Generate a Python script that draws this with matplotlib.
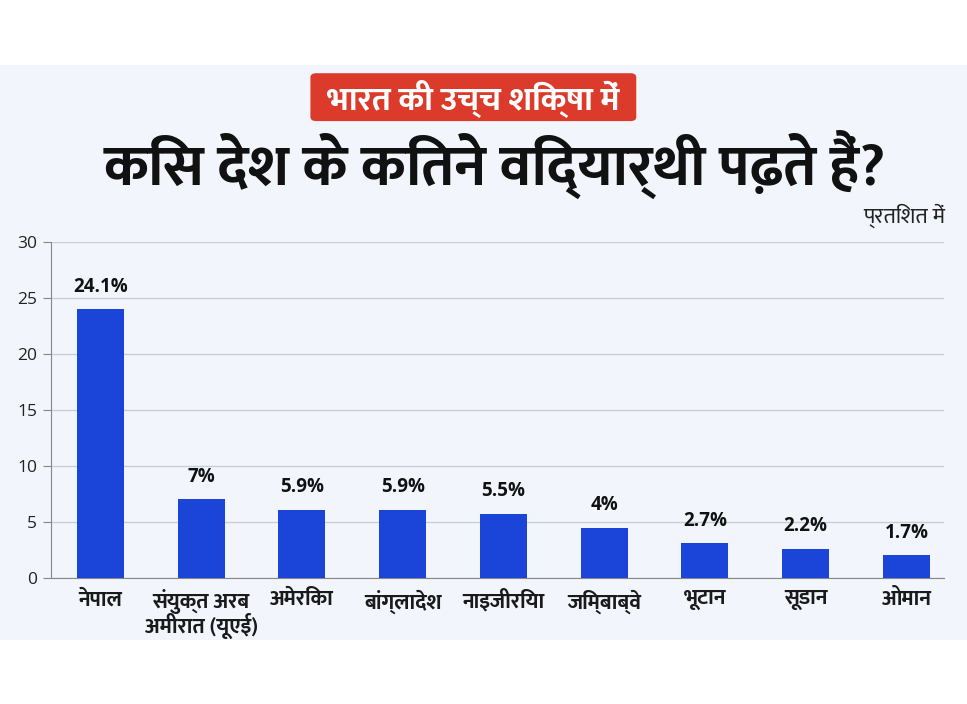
import matplotlib
matplotlib.use('Agg')
import matplotlib.pyplot as plt
from matplotlib.patches import Rectangle, FancyBboxPatch

# data
countries = ['नेपाल', 'संयुक्त अरब\nअमीरात (यूएई)', 'अमेरिका', 'बांग्लादेश', 'नाइजीरिया',
             'जिम्बाब्वे', 'भूटान', 'सूडान', 'ओमान']
heights = [24.0, 7.05, 6.1, 6.1, 5.75, 4.5, 3.1, 2.6, 2.05]   # bar heights as drawn
labels = ['24.1%', '7%', '5.9%', '5.9%', '5.5%', '4%', '2.7%', '2.2%', '1.7%']
yticks = [0, 5, 10, 15, 20, 25, 30]

badge = 'भारत की उच्च शिक्षा में'
title = 'किस देश के कितने विद्यार्थी पढ़ते हैं?'
unit = 'प्रतिशत में'

hindi = ['Mukta', 'DejaVu Sans']
latin = ['Open Sans', 'DejaVu Sans']
bg = '#f2f6fc'

fig = plt.figure(figsize=(9.67, 7.04), dpi=100)
fig.patch.set_facecolor('white')
fig.patches.append(Rectangle((0, 0.091), 1, 0.817, transform=fig.transFigure,
                             facecolor=bg, edgecolor='none', zorder=-2))

# red badge
fig.patches.append(FancyBboxPatch((0.321, 0.828), 0.337, 0.068, transform=fig.transFigure,
                                  boxstyle='round,pad=0,rounding_size=0.006',
                                  facecolor='#dc3a2b', edgecolor='none', zorder=-1))
fig.text(0.489, 0.860, badge, color='white', fontsize=24, fontweight='bold',
         family=hindi, ha='center', va='center')
fig.text(0.512, 0.766, title, color='#111111', fontsize=42, fontweight='bold',
         family=hindi, ha='center', va='center')
fig.text(0.977, 0.694, unit, color='#222222', fontsize=16, family=hindi,
         ha='right', va='center')

ax = fig.add_axes([0.0527, 0.179, 0.9233, 0.477])
ax.set_zorder(1)
ax.set_facecolor(bg)
x = list(range(len(countries)))
bars = ax.bar(x, heights, width=0.466, color='#1b45d9', zorder=3)
for b, lab in zip(bars, labels):
    ax.annotate(lab, (b.get_x() + b.get_width() / 2, b.get_height()),
                xytext=(0, 9), textcoords='offset points', ha='center', va='bottom',
                fontsize=13.5, fontweight='bold', family=latin, color='#111111')

ax.set_xlim(-0.49, 8.37)
ax.set_ylim(0, 30)
ax.set_yticks(yticks)
ax.set_xticks(x)
ax.set_xticklabels(countries, family=hindi, fontsize=15.5, fontweight='bold',
                   color='#1a1a1a', linespacing=0.95, va='top')
ax.tick_params(axis='x', length=0, pad=8)
ax.tick_params(axis='y', length=6, color='#888888', labelsize=12.5, labelcolor='#222222', pad=4)
for t in ax.get_yticklabels():
    t.set_family(latin)
ax.grid(axis='y', color='#c9cdd6', linewidth=1, zorder=0)
for s in ['top', 'right']:
    ax.spines[s].set_visible(False)
ax.spines['left'].set_color('#888888')
ax.spines['bottom'].set_color('#888888')

fig.savefig('out.png', dpi=100, facecolor=fig.get_facecolor())
